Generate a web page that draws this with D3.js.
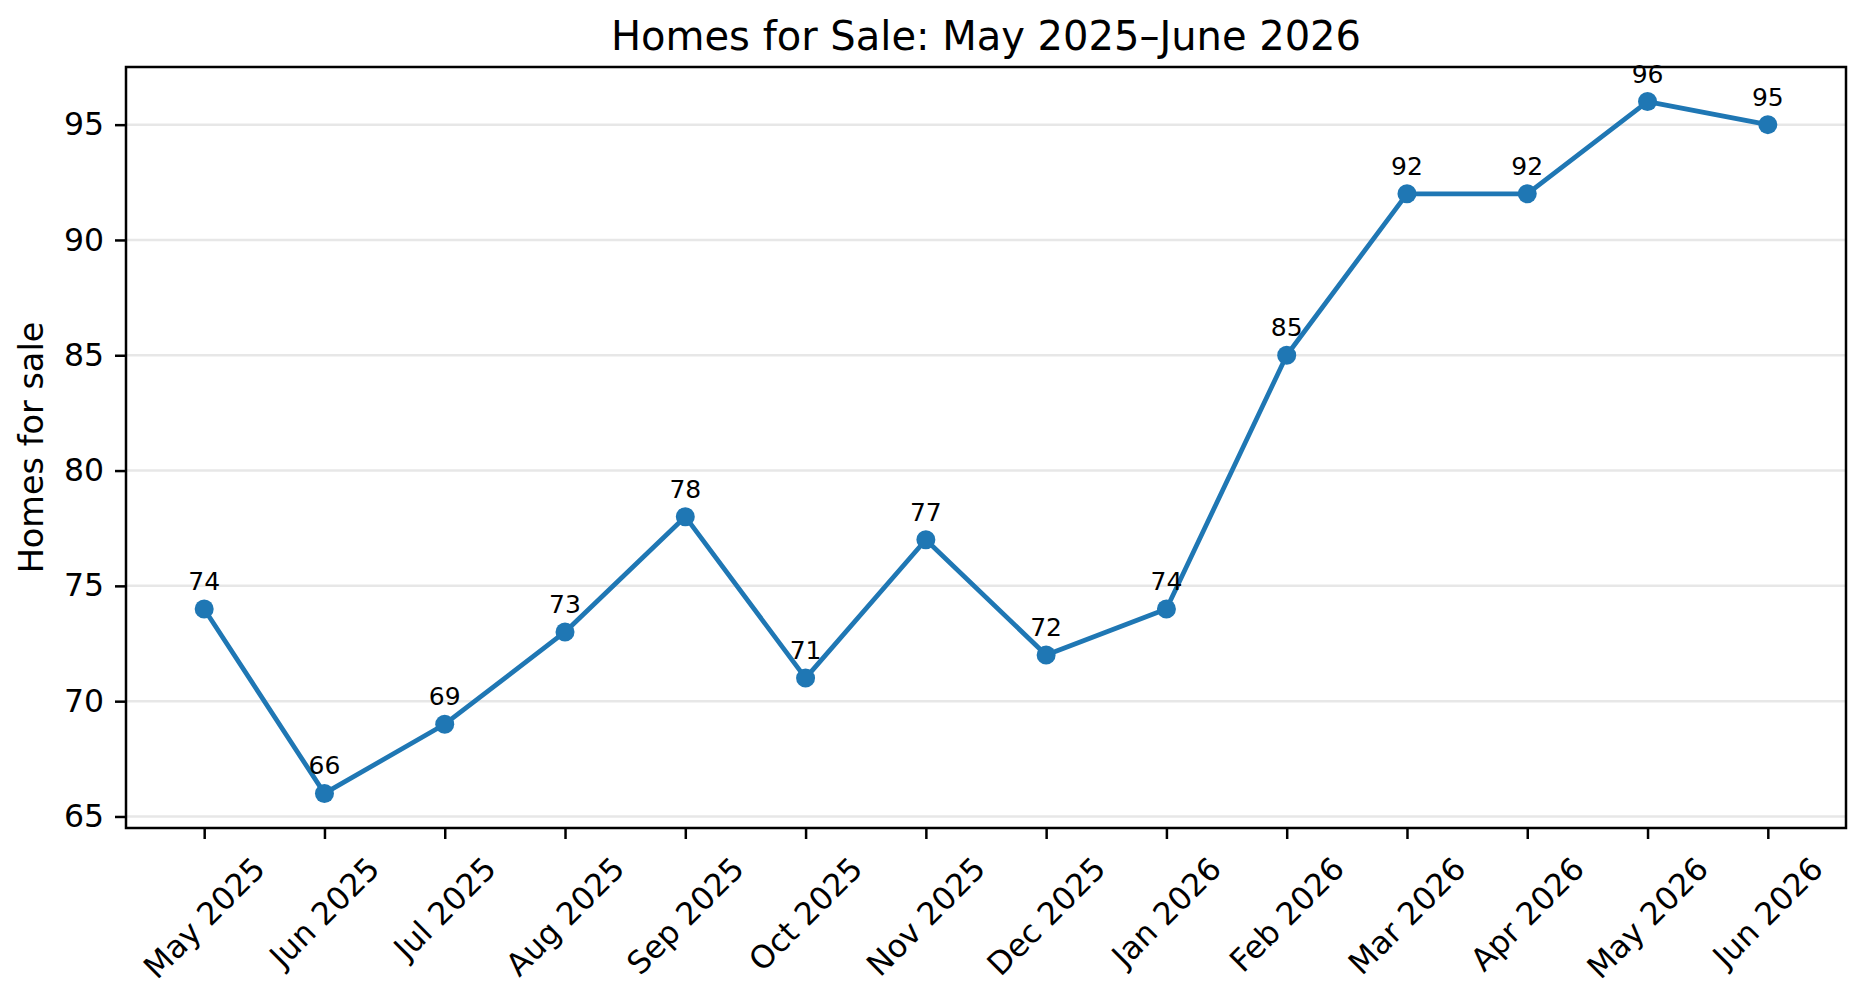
<!DOCTYPE html>
<html>
<head>
<meta charset="utf-8">
<script src="https://cdn.jsdelivr.net/npm/d3@7"></script>
<style>
  body { margin: 0; background: #fff; }
  text { font-family: "DejaVu Sans", sans-serif; fill: #000; }
</style>
</head>
<body>
<div id="chart"></div>
<script>
// data
var months = ["May 2025", "Jun 2025", "Jul 2025", "Aug 2025", "Sep 2025", "Oct 2025", "Nov 2025",
              "Dec 2025", "Jan 2026", "Feb 2026", "Mar 2026", "Apr 2026", "May 2026", "Jun 2026"];
var homes = [74, 66, 69, 73, 78, 71, 77, 72, 74, 85, 92, 92, 96, 95];
var yTicks = [65, 70, 75, 80, 85, 90, 95];

var width = 1865, height = 1007;
var axL = 126, axR = 1846, axT = 67, axB = 828;
var blue = "#1f77b4";

var svg = d3.select("#chart").append("svg")
  .attr("width", width)
  .attr("height", height);

// matplotlib style 5% margins
var x = d3.scaleLinear().domain([-0.65, months.length - 1 + 0.65]).range([axL, axR]);
var y = d3.scaleLinear().domain([64.5, 97.5]).range([axB, axT]);

// grid
svg.append("g")
  .selectAll("line")
  .data(yTicks)
  .enter().append("line")
  .attr("x1", axL).attr("x2", axR)
  .attr("y1", function(d) { return y(d); })
  .attr("y2", function(d) { return y(d); })
  .attr("stroke", "#b0b0b0")
  .attr("stroke-opacity", 0.3)
  .attr("stroke-width", 2.5);

// y axis
var yAxis = svg.append("g")
  .attr("transform", "translate(" + axL + ",0)")
  .call(d3.axisLeft(y).tickValues(yTicks).tickSize(11).tickPadding(11));
yAxis.select(".domain").remove();
yAxis.selectAll("line").attr("stroke", "#000").attr("stroke-width", 2.5);
yAxis.selectAll("text").style("font-size", "31.5px").attr("font-family", "DejaVu Sans").attr("fill", "#000");

// x axis ticks
var xAxis = svg.append("g")
  .attr("transform", "translate(0," + axB + ")")
  .call(d3.axisBottom(x).tickValues(d3.range(months.length)).tickSize(11).tickFormat(""));
xAxis.select(".domain").remove();
xAxis.selectAll("line").attr("stroke", "#000").attr("stroke-width", 2.5);

// rotated month labels, bbox centred under the tick
var labTop = axB + 22;
svg.append("g")
  .selectAll("text")
  .data(months)
  .enter().append("text")
  .style("font-size", "31.5px")
  .attr("text-anchor", "middle")
  .attr("dominant-baseline", "central")
  .text(function(d) { return d; })
  .each(function(d, i) {
    var w = this.getComputedTextLength();
    var h = 31.5 * 1.16;
    var cy = labTop + (w + h) * Math.SQRT1_2 / 2;
    d3.select(this).attr("transform", "translate(" + x(i) + "," + cy + ") rotate(-45)");
  });

// frame
svg.append("rect")
  .attr("x", axL).attr("y", axT)
  .attr("width", axR - axL).attr("height", axB - axT)
  .attr("fill", "none")
  .attr("stroke", "#000")
  .attr("stroke-width", 2.5);

// line + markers
var line = d3.line()
  .x(function(d, i) { return x(i); })
  .y(function(d) { return y(d); });

svg.append("path")
  .datum(homes)
  .attr("d", line)
  .attr("fill", "none")
  .attr("stroke", blue)
  .attr("stroke-width", 4.75)
  .attr("stroke-linejoin", "round");

svg.append("g")
  .selectAll("circle")
  .data(homes)
  .enter().append("circle")
  .attr("cx", function(d, i) { return x(i); })
  .attr("cy", function(d) { return y(d); })
  .attr("r", 9.5)
  .attr("fill", blue);

// value labels
svg.append("g")
  .selectAll("text")
  .data(homes)
  .enter().append("text")
  .attr("x", function(d, i) { return x(i); })
  .attr("y", function(d) { return y(d) - 19; })
  .attr("text-anchor", "middle")
  .style("font-size", "25px")
  .text(function(d) { return d; });

// title + y label
svg.append("text")
  .attr("x", (axL + axR) / 2)
  .attr("y", 50)
  .attr("text-anchor", "middle")
  .style("font-size", "40px")
  .text("Homes for Sale: May 2025\u2013June 2026");

svg.append("text")
  .attr("transform", "translate(43," + (axT + axB) / 2 + ") rotate(-90)")
  .attr("text-anchor", "middle")
  .style("font-size", "33.5px")
  .text("Homes for sale");
</script>
</body>
</html>
